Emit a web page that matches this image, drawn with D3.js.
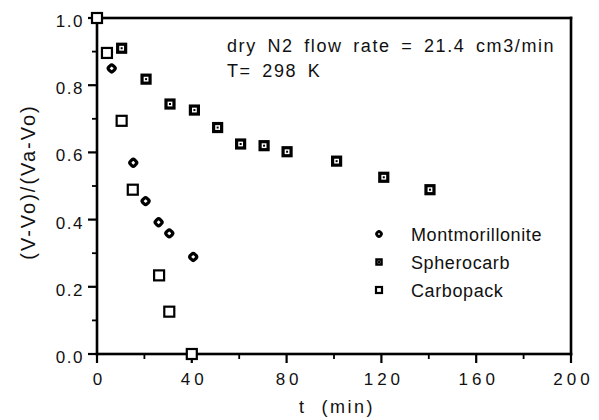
<!DOCTYPE html>
<html><head><meta charset="utf-8">
<script src="https://cdn.jsdelivr.net/npm/d3@7"></script>
<style>body{margin:0;background:#fff}text{font-family:"Liberation Sans",Arial,sans-serif;fill:#111}</style>
</head><body><svg id="c" width="599" height="420" xmlns="http://www.w3.org/2000/svg"></svg>
<script>
const carbopackT = [0, 4.2, 10.4, 15.1, 26.2, 30.5, 40];
const carbopackY = [1.0, 0.896, 0.694, 0.489, 0.234, 0.126, 0.0];
const spherocarbT = [10.4, 20.7, 30.8, 41.1, 50.9, 60.6, 70.5, 80.2, 101.1, 121.0, 140.5];
const spherocarbY = [0.910, 0.818, 0.744, 0.726, 0.674, 0.625, 0.620, 0.602, 0.574, 0.526, 0.489];
const montT = [6.2, 15.3, 20.5, 26.0, 30.5, 40.6];
const montY = [0.850, 0.569, 0.455, 0.392, 0.359, 0.289];
const xTicks = [0, 40, 80, 120, 160, 200];
const yTicks = [0.0, 0.2, 0.4, 0.6, 0.8, 1.0];
const legendNames = ["Montmorillonite", "Spherocarb", "Carbopack"];
const noteLines = ["dry N2 flow rate = 21.4 cm3/min", "T= 298 K"];

const svg = d3.select("#c");
const L = 97, R = 571, T = 18, B = 354;
const x = d3.scaleLinear().domain([0, 200]).range([L, R]);
const y = d3.scaleLinear().domain([0, 1]).range([B, T]);
const INK = "#000000";

// frame drawn as filled bars
const fw = 2.6;
const frame = svg.append("g").attr("fill", INK);
frame.append("rect").attr("x", L - fw / 2).attr("y", T - fw / 2).attr("width", R - L + fw).attr("height", fw);
frame.append("rect").attr("x", L - fw / 2).attr("y", B - fw / 2).attr("width", R - L + fw).attr("height", fw);
frame.append("rect").attr("x", L - fw / 2).attr("y", T - fw / 2).attr("width", fw).attr("height", B - T + fw);
frame.append("rect").attr("x", R - fw / 2).attr("y", T - fw / 2).attr("width", fw).attr("height", B - T + fw);

// ticks as filled bars
const xMinor = d3.range(20, 200, 40);
const yMinor = [0.1, 0.3, 0.5, 0.7, 0.9];
const tk = svg.append("g").attr("fill", INK);
tk.selectAll(".xmaj").data(xTicks).join("rect").attr("class", "xmaj")
  .attr("x", d => x(d) - 1.1).attr("y", B).attr("width", 2.2).attr("height", 9);
tk.selectAll(".xmin").data(xMinor).join("rect").attr("class", "xmin")
  .attr("x", d => x(d) - 0.9).attr("y", B).attr("width", 1.8).attr("height", 5);
tk.selectAll(".ymaj").data(yTicks).join("rect").attr("class", "ymaj")
  .attr("x", L - 9).attr("y", d => y(d) - 1.1).attr("width", 9).attr("height", 2.2);
tk.selectAll(".ymin").data(yMinor).join("rect").attr("class", "ymin")
  .attr("x", L - 5).attr("y", d => y(d) - 0.9).attr("width", 5).attr("height", 1.8);

// tick labels via axes (lines drawn above as bars)
const xA = d3.axisBottom(x).tickValues(xTicks).tickSize(8).tickPadding(11).tickFormat(d3.format("d"));
const gx = svg.append("g").attr("transform", `translate(0,${B})`).call(xA);
gx.select(".domain").remove();
gx.selectAll("line").remove();
gx.selectAll("text").attr("font-size", 17).attr("letter-spacing", "4px").attr("dx", "2px")
  .attr("font-family", "Liberation Sans").style("fill", "#111");
const yA = d3.axisLeft(y).tickValues(yTicks).tickSize(9).tickPadding(4).tickFormat(d3.format(".1f"));
const gy = svg.append("g").attr("transform", `translate(${L},0)`).call(yA);
gy.select(".domain").remove();
gy.selectAll("line").remove();
gy.selectAll("text").attr("font-size", 17).attr("letter-spacing", "1.5px").attr("dy", "0.5em")
  .attr("font-family", "Liberation Sans").style("fill", "#111");

// axis titles
svg.append("text").attr("x", 337).attr("y", 413).attr("text-anchor", "middle").attr("font-size", 18)
  .attr("letter-spacing", "2.5px").attr("xml:space", "preserve").text("t  (min)");
svg.append("text").attr("transform", "translate(35,182) rotate(-90)").attr("text-anchor", "middle")
  .attr("font-size", 20).attr("letter-spacing", "2px").text("(V-Vo)/(Va-Vo)");

// annotation
noteLines.forEach((s, i) => svg.append("text").attr("x", 227).attr("y", 52 + i * 25).attr("font-size", 18)
  .attr("letter-spacing", "1.6px").attr("word-spacing", "4px").text(s));

// marker drawers
function carbopack(g, cx, cy, s, w) {
  g.append("rect").attr("x", cx - s / 2).attr("y", cy - s / 2).attr("width", s).attr("height", s)
    .attr("fill", "#fff").attr("stroke", INK).attr("stroke-width", w);
}
function spherocarb(g, cx, cy, s, w) {
  g.append("rect").attr("x", cx - s / 2).attr("y", cy - s / 2).attr("width", s).attr("height", s)
    .attr("fill", "#fff").attr("stroke", INK).attr("stroke-width", w);
  g.append("rect").attr("x", cx - 1).attr("y", cy - 1).attr("width", 2).attr("height", 2).attr("fill", INK);
}
function mont(g, cx, cy, s, w) {
  g.append("rect").attr("x", cx - s / 2).attr("y", cy - s / 2).attr("width", s).attr("height", s)
    .attr("rx", 2).attr("transform", `rotate(45,${cx},${cy})`)
    .attr("fill", "#fff").attr("stroke", INK).attr("stroke-width", w);
}

const pts = svg.append("g");
carbopackT.forEach((t, i) => carbopack(pts, x(t), y(carbopackY[i]), 10, 2.2));
spherocarbT.forEach((t, i) => spherocarb(pts, x(t), y(spherocarbY[i]), 8, 3.2));
montT.forEach((t, i) => mont(pts, x(t), y(montY[i]), 6, 3.2));

// legend
const lg = svg.append("g");
const lys = [234, 262, 290];
mont(lg, 379, lys[0], 4.5, 2.8);
spherocarb(lg, 379, lys[1], 5, 2.5);
carbopack(lg, 379, lys[2], 6, 2.2);
legendNames.forEach((n, i) => lg.append("text").attr("x", 411).attr("y", lys[i] + 6.5).attr("font-size", 18)
  .attr("letter-spacing", "0.6px").text(n));
</script></body></html>
